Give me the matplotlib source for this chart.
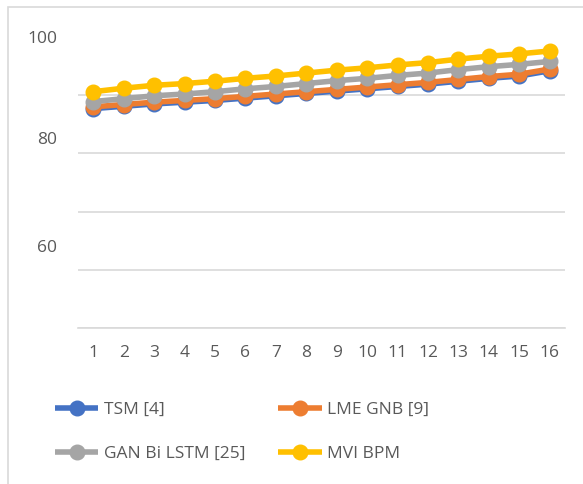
import numpy as np
import matplotlib
matplotlib.use("Agg")
import matplotlib.pyplot as plt
from matplotlib.patches import Rectangle

plt.rcParams.update({"font.family": "Open Sans", "font.size": 12.5})

# ---- datos ----
runs = list(range(1, 17))
mvi_bpm = [90.6, 91.2, 91.7, 92.0, 92.4, 92.9, 93.3, 93.8,
           94.3, 94.7, 95.2, 95.6, 96.2, 96.7, 97.1, 97.6]
gan_bilstm = [88.9, 89.4, 89.9, 90.2, 90.6, 91.1, 91.5, 92.0,
              92.5, 92.9, 93.4, 93.8, 94.4, 94.9, 95.3, 95.8]
lme_gnb = [88.0, 88.4, 88.8, 89.1, 89.4, 89.8, 90.2, 90.6,
           91.0, 91.4, 91.8, 92.2, 92.7, 93.2, 93.6, 94.5]
tsm = [87.7, 88.1, 88.5, 88.8, 89.1, 89.5, 89.9, 90.3,
       90.7, 91.1, 91.5, 91.9, 92.4, 92.9, 93.3, 94.2]
series = [("TSM [4]", tsm, "#4472C4"),
          ("LME GNB [9]", lme_gnb, "#ED7D31"),
          ("GAN Bi LSTM [25]", gan_bilstm, "#A5A5A5"),
          ("MVI BPM", mvi_bpm, "#FFC000")]
ytick_vals = [100, 82.6, 64.1]          # posiciones de las etiquetas tal como aparecen
ytick_labels = ["100", "80", "60"]

TXT = "#595959"
fig = plt.figure(figsize=(5.83, 4.84), dpi=100)
ax = fig.add_axes([78/583, 1 - 328/484, (565 - 78)/583, (328 - 37)/484])

# borde del área del gráfico
fig.patches.append(Rectangle((8/583, -0.05), 1.2, 1 - 7/484 + 0.05,
                             transform=fig.transFigure, fill=False,
                             ec="#D9D9D9", lw=1.2))

handles = {}
for lbl, vals, col in series:
    h, = ax.plot(runs, vals, "-o", color=col, lw=4.0, ms=10.5,
                 mec=col, mfc=col, label=lbl, solid_capstyle="butt")
    handles[lbl] = h

ax.set_xlim(0.5, 16.5)
ax.set_ylim(50, 100)
ax.set_xticks(runs)
ax.set_yticks(ytick_vals)
ax.set_yticklabels(ytick_labels)
ax.set_yticks(np.arange(50, 101, 10), minor=True)
ax.grid(True, which="minor", axis="y", color="#D9D9D9", lw=1.2)
ax.set_axisbelow(True)
ax.tick_params(axis="both", which="both", length=0, colors=TXT, labelsize=12.5)
ax.tick_params(axis="y", pad=15)
ax.tick_params(axis="x", pad=12)
for s in ("top", "right", "left"):
    ax.spines[s].set_visible(False)
ax.spines["bottom"].set_color("#D9D9D9")
ax.spines["bottom"].set_linewidth(1.2)

order = ["TSM [4]", "GAN Bi LSTM [25]", "LME GNB [9]", "MVI BPM"]
leg = fig.legend([handles[k] for k in order], order, ncol=2, frameon=False,
                 loc="upper left", bbox_to_anchor=(55/583, 1 - 402/484),
                 borderaxespad=0, borderpad=0, handlelength=2.5,
                 handletextpad=0.3, columnspacing=1.9, labelspacing=1.6,
                 fontsize=12.5)
for t in leg.get_texts():
    t.set_color(TXT)

fig.savefig("out.png", dpi=100)
